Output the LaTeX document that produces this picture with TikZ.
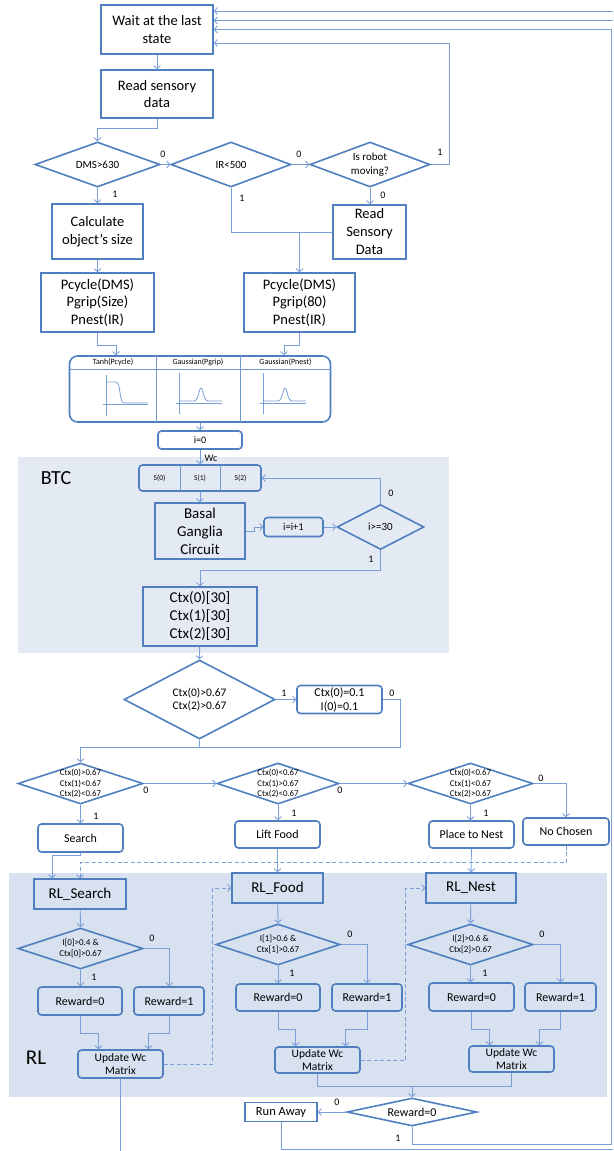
\documentclass[tikz,border=0pt]{standalone}
\usepackage{fontspec}
\setmainfont{Carlito}
\usetikzlibrary{shapes.geometric,arrows.meta}
\definecolor{boxc}{HTML}{4F7FBF}
\definecolor{linec}{HTML}{7A9ED6}
\definecolor{btcfill}{HTML}{E4EAF4}
\definecolor{rlfill}{HTML}{D7E1F0}
\newcommand{\fs}[2]{\fontsize{#1}{#2}\selectfont}

\begin{document}
\begin{tikzpicture}[
        x=1pt, y=-1pt,
        box/.style={draw=boxc,line width=1.6pt,align=center,inner sep=1pt,font=\fs{14.5}{17.5}},
        rbox/.style={box,rounded corners=3.5pt},
        dec/.style={diamond,draw=boxc,line width=1.6pt,inner sep=0pt},
        dtext/.style={align=center,inner sep=0pt},
        link/.style={draw=linec,line width=0.9pt},
        arr/.style={link,-{Straight Barb[length=3pt,width=7pt]}},
        dlink/.style={arr,dash pattern=on 4pt off 2.5pt},
        lbl/.style={inner sep=0pt,font=\fs{10}{12}},
        divider/.style={draw=boxc!80,line width=0.8pt},
        curve/.style={draw=linec,line width=0.8pt}
    ]
    \useasboundingbox (0,0) rectangle (613,1151);

    % Shaded areas
    \fill[btcfill] (18,457) rectangle (449,653);
    \fill[rlfill] (9,873) rectangle (607,1097);
    \node[font=\fs{20}{24}] (btc) at (56,478) {BTC};
    \node[font=\fs{21}{24}] (rl) at (36,1058) {RL};

    % Sensing
    \node[box,minimum width=112pt,minimum height=49pt] (wait) at (157,29.5) {Wait at the last\\state};
    \node[box,minimum width=112pt,minimum height=48pt] (read) at (157,94) {Read sensory\\data};
    \node[dec,minimum width=125pt,minimum height=45pt,label={[dtext,font=\fs{11}{13}]center:{DMS>630}}] (dms) at (97.5,164.5) {};
    \node[dec,minimum width=120pt,minimum height=45pt,label={[dtext,font=\fs{11}{13}]center:{IR<500}}] (ir) at (231,164.5) {};
    \node[dec,minimum width=120pt,minimum height=45pt,label={[dtext,font=\fs{11}{14}]center:{Is robot\\moving?}}] (moving) at (370,164.5) {};
    \node[box,minimum width=91pt,minimum height=55pt] (calc) at (97.5,231.5) {Calculate\\object’s size};
    \node[box,minimum width=73pt,minimum height=54pt,font=\fs{14.5}{18}] (rsd) at (369.5,232) {Read\\Sensory\\Data};
    \node[box,minimum width=113pt,minimum height=59pt] (pa) at (97.5,302.5) {Pcycle(DMS)\\Pgrip(Size)\\Pnest(IR)};
    \node[box,minimum width=111pt,minimum height=59pt] (pb) at (299.5,302.5) {Pcycle(DMS)\\Pgrip(80)\\Pnest(IR)};

    % Activation functions
    \node[rbox,rounded corners=8pt,minimum width=261pt,minimum height=66pt] (func) at (200,389) {};
    \draw[divider] (69.5,369) -- (330.5,369);
    \draw[divider] (156,356) -- (156,422) (240,356) -- (240,422);
    \node[font=\fs{8}{9}] (ftanh) at (113,362.5) {Tanh(Pcycle)};
    \node[font=\fs{8}{9}] (fgrip) at (198,362.5) {Gaussian(Pgrip)};
    \node[font=\fs{8}{9}] (fnest) at (285.5,362.5) {Gaussian(Pnest)};
    \draw[curve] (106,375) -- (106,416) (103,404) -- (148,404);
    \draw[curve,domain=106:148,samples=60,smooth] plot (\x,{392.5+10.5*tanh(max(-4,min(4,(\x-120)/1.6)))});
    \foreach \c in {179,263} {
        \draw[curve] (\c,373) -- (\c,414) (\c-3,403) -- (\c+43,403);
        \draw[curve,domain=\c+1:\c+43,samples=60,smooth] plot (\x,{401-13*exp(-min(9,((\x-\c-22)/3.2)^2))});
    }

    % BTC loop
    \node[rbox,minimum width=84pt,minimum height=18pt,font=\fs{10}{12}] (izero) at (200,440) {i=0};
    \node[rbox,minimum width=122pt,minimum height=26pt] (svec) at (200,478) {};
    \draw[divider] (180,465) -- (180,491) (220,465) -- (220,491);
    \foreach \n/\x in {0/159.5,1/200,2/240.5}
        \node[font=\fs{7.5}{9}] (s\n) at (\x,478) {S(\n)};
    \node[box,minimum width=90pt,minimum height=56pt,font=\fs{15}{18}] (bg) at (200,531) {Basal\\Ganglia\\Circuit};
    \node[rbox,minimum width=59pt,minimum height=19pt,font=\fs{10.5}{12}] (inc) at (293.5,527) {i=i+1};
    \node[dec,minimum width=87pt,minimum height=45pt,label={[dtext,font=\fs{11}{13}]center:{i>=30}}] (ige) at (380.5,527) {};
    \node[box,minimum width=114pt,minimum height=59pt,font=\fs{15}{18}] (ctx) at (200,616.5) {Ctx(0)[30]\\Ctx(1)[30]\\Ctx(2)[30]};

    % Action selection
    \node[dec,minimum width=151pt,minimum height=79pt,label={[dtext,font=\fs{11.5}{13.5}]center:{Ctx(0)>0.67\\Ctx(2)>0.67}}] (big) at (199.5,699.5) {};
    \node[rbox,minimum width=85pt,minimum height=28pt,font=\fs{12}{14}] (reset) at (339.5,699.5) {Ctx(0)=0.1\\I(0)=0.1};
    \node[dec,minimum width=125pt,minimum height=41pt,label={[dtext,font=\fs{8.8}{10.3}]center:{Ctx(0)>0.67\\Ctx(1)<0.67\\Ctx(2)<0.67}}] (d1) at (80.5,783.5) {};
    \node[dec,minimum width=122pt,minimum height=41pt,label={[dtext,font=\fs{8.8}{10.3}]center:{Ctx(0)<0.67\\Ctx(1)>0.67\\Ctx(2)<0.67}}] (d2) at (278,783.5) {};
    \node[dec,minimum width=125pt,minimum height=41pt,label={[dtext,font=\fs{8.8}{10.3}]center:{Ctx(0)<0.67\\Ctx(1)<0.67\\Ctx(2)>0.67}}] (d3) at (470.5,783.5) {};
    \node[rbox,minimum width=85pt,minimum height=28pt,font=\fs{12}{14}] (search) at (80.5,838) {Search};
    \node[rbox,minimum width=85pt,minimum height=27pt,font=\fs{12}{14}] (lift) at (277.5,834.5) {Lift Food};
    \node[rbox,minimum width=85pt,minimum height=27pt,font=\fs{12}{14}] (place) at (471.5,834.5) {Place to Nest};
    \node[rbox,minimum width=86pt,minimum height=27pt,font=\fs{12}{14}] (nochosen) at (566,831.5) {No Chosen};

    % RL blocks
    \node[box,minimum width=92pt,minimum height=30pt,font=\fs{15}{18}] (rl1) at (80,894) {RL\_Search};
    \node[box,minimum width=91pt,minimum height=30pt,font=\fs{15}{18}] (rl2) at (277.5,888) {RL\_Food};
    \node[box,minimum width=90pt,minimum height=30pt,font=\fs{15}{18}] (rl3) at (471,888) {RL\_Nest};
    \node[dec,minimum width=125pt,minimum height=41pt,label={[dtext,font=\fs{9}{11.5}]center:{I[0]>0.4 \&\\Ctx[0]>0.67}}] (q1) at (80.5,948.5) {};
    \node[dec,minimum width=124pt,minimum height=41pt,label={[dtext,font=\fs{9}{11.5}]center:{I[1]>0.6 \&\\Ctx[1]>0.67}}] (q2) at (278,944.5) {};
    \node[dec,minimum width=125pt,minimum height=41pt,label={[dtext,font=\fs{9}{11.5}]center:{I[2]>0.6 \&\\Ctx[2]>0.67}}] (q3) at (470.5,944.5) {};
    \node[rbox,minimum width=84pt,minimum height=28pt,font=\fs{12}{14}] (ra1) at (80,1001) {Reward=0};
    \node[rbox,minimum width=70pt,minimum height=28pt,font=\fs{12}{14}] (rb1) at (169,1001) {Reward=1};
    \node[rbox,minimum width=84pt,minimum height=27pt,font=\fs{12}{14}] (ra2) at (278,997.5) {Reward=0};
    \node[rbox,minimum width=70pt,minimum height=27pt,font=\fs{12}{14}] (rb2) at (367,997.5) {Reward=1};
    \node[rbox,minimum width=85pt,minimum height=28pt,font=\fs{12}{14}] (ra3) at (471.5,997) {Reward=0};
    \node[rbox,minimum width=71pt,minimum height=28pt,font=\fs{12}{14}] (rb3) at (560.5,997) {Reward=1};
    \node[rbox,minimum width=85pt,minimum height=28pt,font=\fs{11.5}{13.3}] (up1) at (120.5,1064) {Update Wc\\Matrix};
    \node[rbox,minimum width=85pt,minimum height=26pt,font=\fs{11.5}{13.3}] (up2) at (317.5,1060) {Update Wc\\Matrix};
    \node[rbox,minimum width=85pt,minimum height=26pt,font=\fs{11.5}{13.3}] (up3) at (511.5,1059) {Update Wc\\Matrix};
    \node[dec,minimum width=130pt,minimum height=28pt,label={[dtext,font=\fs{12}{14}]center:{Reward=0}}] (rew) at (412,1112) {};
    \node[box,minimum width=72pt,minimum height=19pt,font=\fs{12.5}{14}] (runaway) at (281,1112) {Run Away};

    % Free ends at the picture border
    \coordinate (inA) at (613,11);
    \coordinate (inB) at (613,20.5);
    \coordinate (corner) at (611,1144);
    \coordinate (outR) at (613,1149);
    \coordinate (out1) at (120.5,1151);

    % Connectors
    \draw[arr] (wait) -- (read);
    \draw[arr] (read.south) -- ++(0,10) -| (dms.north);
    \draw[arr] (dms.east) -- (ir.west);
    \draw[arr] (ir.east) -- (moving.west);
    \draw[arr] (moving.east) -- ++(19,0) |- (wait.east |- 0,43);
    \draw[arr] (dms.south) -- (calc.north);
    \draw[link] (ir.south) |- (rsd.west);
    \draw[arr] (pb.north |- rsd.west) -- (pb.north);
    \draw[arr] (moving.south) -- (rsd.north -| moving.south);
    \draw[arr] (calc) -- (pa);
    \draw[arr] (pa.south) -- ++(0,13) -| (func.north -| 116,0);
    \draw[arr] (pb.south) -- ++(0,13) -| (func.north -| 284,0);
    \draw[arr] (func) -- (izero);
    \draw[arr] (izero) -- (svec);
    \draw[arr] (svec) -- (bg);
    \draw[arr] (bg.east) -- ++(9,0) |- (inc.west);
    \draw[arr] (inc) -- (ige.west);
    \draw[arr] (ige.north) |- (svec.east);
    \draw[arr] (ige.south) -- ++(0,20) -| (ctx.north);
    \draw[arr] (ctx) -- (big.north);
    \draw[arr] (big.east) -- (reset);
    \draw[arr] (reset.east) -| (400,747) -| (d1.north);
    \draw[link] (big.south) -- (big.south |- 0,747);
    \draw[arr] (d1.east) -- (d2.west);
    \draw[arr] (d2.east) -- (d3.west);
    \draw[arr] (d3.east) -| (nochosen.north);
    \draw[arr] (d1.south) -- (search.north);
    \draw[arr] (d2.south) -- (lift.north -| d2.south);
    \draw[arr] (d3.south) -- (place.north -| d3.south);
    \draw[arr] (search.south) -- ++(0,3) -| (rl1.north -| 52,0);
    \draw[dlink] (nochosen.south) -- ++(0,17) -| (rl1.north);
    \draw[arr] (lift) -- (rl2);
    \draw[arr] (place) -- (rl3);
    \foreach \c in {1,2,3} {
        \draw[arr] (rl\c) -- (q\c.north);
        \draw[arr] (q\c.south) -- (ra\c.north -| q\c.south);
        \draw[arr] (q\c.east) -| (rb\c.north);
        \draw[arr] (ra\c.south) -- ++(0,17.5) -| ([xshift=-22pt]up\c.north);
        \draw[arr] (rb\c.south) -- ++(0,17.5) -| ([xshift=28pt]up\c.north);
    }
    \draw[dlink] (up1.east) -- ++(49,0) |- (rl2.west);
    \draw[dlink] (up2.east) -- ++(45,0) |- (rl3.west);
    \draw[link] (up1.south) -- (out1);
    \draw[arr] (up2.south) -- ++(0,13) -| (rew.north);
    \draw[link] (up3.south) |- (rew.north |- 0,1086.5);
    \draw[arr] (rew.west) -- (runaway.east);
    \draw[arr] (rew.south) |- (corner) |- (wait.east);
    \draw[link] (runaway.south) |- (outR);
    \draw[arr] (inA) -- (wait.east |- inA);
    \draw[arr] (inB) -- (wait.east |- inB);

    % Branch labels
    \foreach \n/\x/\y/\t in {a/163/154/0, b/299/154/0, c/440/152/1, d/115/194/1, e/242/198/1,
            f/383/195/0, g/391/493/0, h/371/559/1, i/284/693/1, j/392/693/0, k/146/790/0,
            l/340/790/0, m/541/778/0, n/96/816/1, o/294/813/1, p/486/813/1, q/152/938/0,
            r/94/977/1, s/350/934/0, t/292/973/1, u/542/934/0, v/485/973/1, w/337/1102/0,
            x/398/1138/1}
        \node[lbl] (lab\n) at (\x,\y) {\t};
    \node[lbl] (labwc) at (211,458) {Wc};

\end{tikzpicture}
\end{document}
